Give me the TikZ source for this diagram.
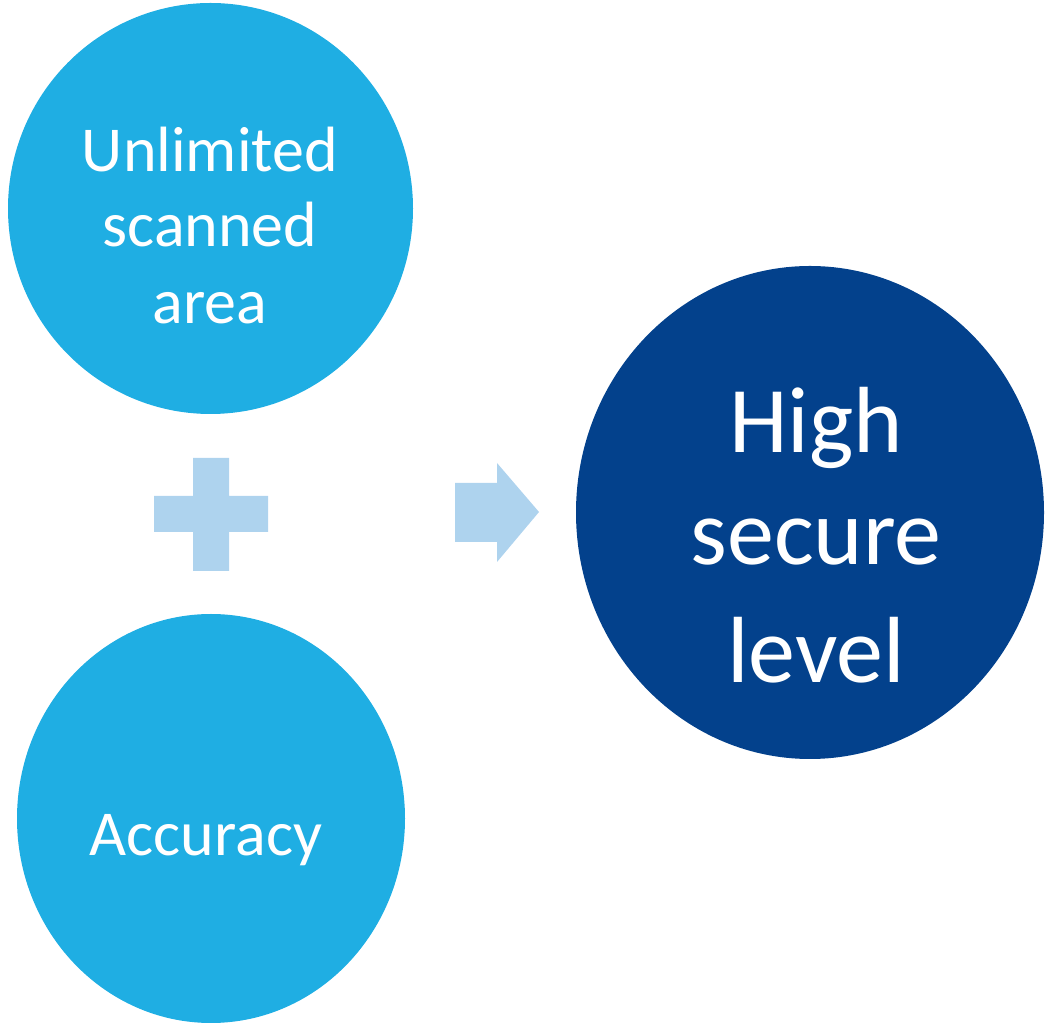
\documentclass[tikz,border=0pt]{standalone}
\usepackage{fontspec}
\setmainfont{Carlito}
\usetikzlibrary{shapes.geometric}

\definecolor{discblue}{RGB}{31,174,227}
\definecolor{darkblue}{RGB}{3,65,140}
\definecolor{paleblue}{RGB}{174,211,238}

\tikzset{
    disc/.style={ellipse, fill=discblue, inner sep=0pt},
    bigdisc/.style={ellipse, fill=darkblue, inner sep=0pt},
    smalltxt/.style={anchor=base, text=white, inner sep=0pt, font=\fontsize{32}{38}\selectfont},
    bigtxt/.style={anchor=base, text=white, inner sep=0pt, font=\fontsize{47}{57}\selectfont}
}

\begin{document}
\begin{tikzpicture}[x=0.5pt, y=0.5pt]
        \useasboundingbox (0,0) rectangle (1050,1023);
        % the two inputs
        \node [disc, minimum width=202.5pt, minimum height=205.5pt] (scan) at (210.5,814.5) {};
        \node [smalltxt] (scanA) at (210,851) {Unlimited};
        \node [smalltxt] (scanB) at (210,776) {scanned};
        \node [smalltxt] (scanC) at (210,699) {area};
        \node [disc, minimum width=194pt, minimum height=204.5pt] (acc) at (211,204.5) {};
        \node [smalltxt] (accA) at (206,167) {Accuracy};
        % plus sign between them
        \fill [paleblue] (154,491) -- (193,491) -- (193,452) -- (229,452) -- (229,491)
            -- (268,491) -- (268,527) -- (229,527) -- (229,565) -- (193,565)
            -- (193,527) -- (154,527) -- cycle;
        % arrow to the result
        \fill [paleblue] (455,481) -- (497,481) -- (497,461) -- (539,511)
            -- (497,560) -- (497,540) -- (455,540) -- cycle;
        \node [bigdisc, minimum width=234pt, minimum height=246.5pt] (secure) at (810,510.5) {};
        \node [bigtxt] (secA) at (816,570) {High};
        \node [bigtxt] (secB) at (816,458) {secure};
        \node [bigtxt] (secC) at (816,340) {level};
    \end{tikzpicture}
\end{document}
